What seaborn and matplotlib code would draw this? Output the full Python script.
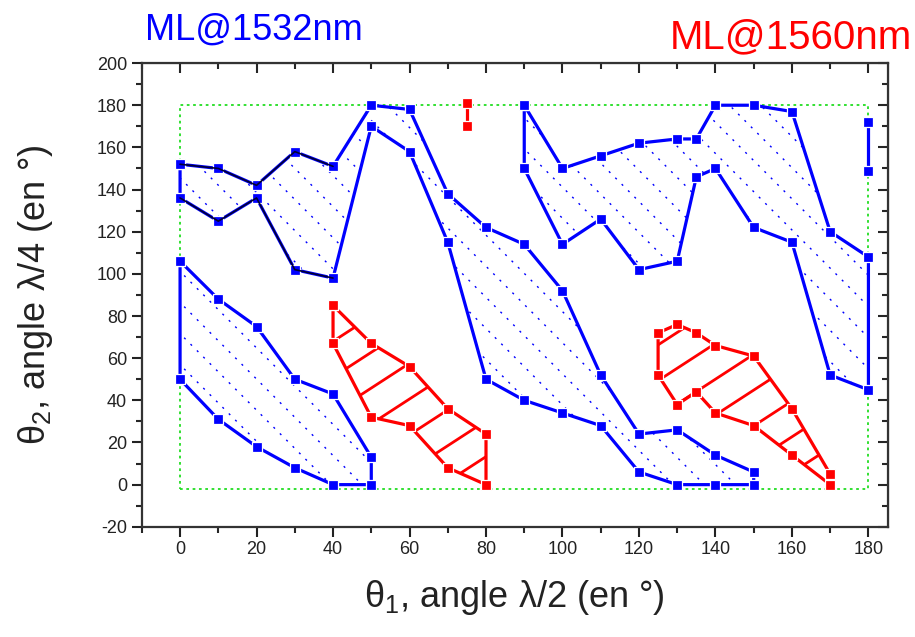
import numpy as np
import pandas as pd
import seaborn as sns
import matplotlib
matplotlib.use('Agg')
import matplotlib.pyplot as plt
from matplotlib.collections import LineCollection
from matplotlib.transforms import IdentityTransform

# ML@1532nm (blue) : allowed zones, upper / lower limits of theta2 for each theta1
blue_left_t1 = [0, 10, 20, 30, 40, 50]
blue_left_up = [106, 88, 75, 50, 43, 13]
blue_left_lo = [50, 31, 18, 8, 0, 0]

blue_mid_t1 = [0, 10, 20, 30, 40, 50, 60, 70, 80, 90, 100, 110, 120, 130, 140, 150]
blue_mid_up = [152, 150, 142, 158, 151, 180, 178, 138, 122, 114, 92, 52, 24, 26, 14, 6]
blue_mid_lo = [136, 125, 136, 102, 98, 170, 158, 115, 50, 40, 34, 28, 6, 0, 0, 0]

blue_right_t1 = [90, 100, 110, 120, 130, 135, 140, 150, 160, 170, 180]
blue_right_up = [180, 150, 156, 162, 164, 164, 180, 180, 177, 120, 108]
blue_right_lo = [150, 114, 126, 102, 106, 146, 150, 122, 115, 52, 45]

blue_edge_t1 = [180, 180]
blue_edge_t2 = [172, 149]

# ML@1560nm (red)
red_left_t1 = [40, 50, 60, 70, 80]
red_left_up = [85, 67, 56, 36, 24]
red_left_lo = [67, 32, 28, 8, 0]

red_right_t1 = [125, 130, 135, 140, 150, 160, 170]
red_right_up = [72, 76, 72, 66, 61, 36, 5]
red_right_lo = [52, 38, 44, 34, 28, 14, 0]

red_top_t1 = [75, 75]
red_top_t2 = [181, 170]

# explored domain
frame_x = [0, 180, 180, 0, 0]
frame_y = [-2, -2, 180, 180, -2]

BLUE = '#0000ff'
RED = '#ff0000'

sns.set_style('ticks')
plt.rcParams['font.family'] = ['Liberation Sans', 'DejaVu Sans']
plt.rcParams['mathtext.fontset'] = 'custom'
plt.rcParams['mathtext.rm'] = 'Liberation Sans'
plt.rcParams['mathtext.it'] = 'Liberation Sans'
plt.rcParams['axes.unicode_minus'] = False

fig = plt.figure(figsize=(9.15, 6.37), dpi=100)
ax = fig.add_axes([0.155, 0.173, 0.815, 0.728])
ax.set_xlim(-10, 185)
ax.set_ylim(-20, 200)


def outline(t1, up, lo):
    x = list(t1) + list(t1[::-1]) + [t1[0]]
    y = list(up) + list(lo[::-1]) + [up[0]]
    return x, y


def hatch(patch, angle, step, **kw):
    # parallel lines in pixel space, clipped to the zone
    x0, y0, x1, y1 = ax.bbox.extents
    a = np.radians(angle)
    d = np.array([np.cos(a), np.sin(a)])
    n = np.array([-d[1], d[0]])
    c = np.array([(x0 + x1) / 2, (y0 + y1) / 2])
    L = np.hypot(x1 - x0, y1 - y0)
    ks = np.arange(-int(L // step) - 1, int(L // step) + 2)
    segs = [[c + k * step * n - L * d, c + k * step * n + L * d] for k in ks]
    lc = LineCollection(segs, transform=IdentityTransform(), zorder=1.5, **kw)
    ax.add_collection(lc, autolim=False)
    lc.set_clip_path(patch)


def zone(t1, up, lo, color, hatch_kw):
    x, y = outline(t1, up, lo)
    patch = ax.fill(x, y, facecolor='none', edgecolor='none')[0]
    hatch(patch, **hatch_kw)
    sns.lineplot(x=x, y=y, sort=False, estimator=None, color=color, lw=2.3,
                 marker='s', markersize=7, markeredgecolor='white',
                 markeredgewidth=0.9, ax=ax, zorder=3)


ax.plot(frame_x, frame_y, color='#22dd22', lw=1.3, dashes=(1.5, 2.0), zorder=1)

blue_hatch = dict(angle=-45, step=22, colors=BLUE, linewidths=1.0,
                  linestyles=[(0, (1.5, 5))])
red_hatch = dict(angle=33, step=30, colors=RED, linewidths=2.0)

zone(blue_left_t1, blue_left_up, blue_left_lo, BLUE, blue_hatch)
zone(blue_mid_t1, blue_mid_up, blue_mid_lo, BLUE, blue_hatch)
zone(blue_right_t1, blue_right_up, blue_right_lo, BLUE, blue_hatch)
zone(red_left_t1, red_left_up, red_left_lo, RED, red_hatch)
zone(red_right_t1, red_right_up, red_right_lo, RED, red_hatch)

# dark overlay on the first segments of the middle zone
ax.plot(blue_mid_t1[:5], blue_mid_up[:5], color='#000033', lw=1.2, zorder=3.5)
ax.plot(blue_mid_t1[:5], blue_mid_lo[:5], color='#000033', lw=1.2, zorder=3.5)

sns.lineplot(x=blue_edge_t1, y=blue_edge_t2, sort=False, estimator=None, color=BLUE,
             lw=2.3, marker='s', markersize=6.5, markeredgecolor='white',
             markeredgewidth=0.9, ax=ax, zorder=3)
sns.lineplot(x=red_top_t1, y=red_top_t2, sort=False, estimator=None, color=RED,
             lw=2.3, marker='s', markersize=6.5, markeredgecolor='white',
             markeredgewidth=0.9, ax=ax, zorder=3)

# axes styling
ax.set_xticks(np.arange(0, 181, 20))
ax.set_xticks(np.arange(-10, 186, 10), minor=True)
ax.set_yticks(np.arange(-20, 201, 20))
ax.set_yticks(np.arange(-20, 201, 10), minor=True)
ax.tick_params(which='major', direction='out', length=7, width=1.5, labelsize=13,
               colors='#222222')
ax.tick_params(which='minor', direction='out', length=4, width=1.5)
for s in ax.spines.values():
    s.set_visible(True)
    s.set_linewidth(1.6)
    s.set_color('#333333')

top = ax.secondary_xaxis('top')
top.set_xticks(np.arange(0, 181, 20))
top.set_xticks(np.arange(-10, 186, 10), minor=True)
top.tick_params(which='major', direction='in', length=7, width=1.5, labeltop=False)
top.tick_params(which='minor', direction='in', length=4, width=1.5)
right = ax.secondary_yaxis('right')
right.set_yticks(np.arange(-20, 201, 20))
right.set_yticks(np.arange(-20, 201, 10), minor=True)
right.tick_params(which='major', direction='in', length=7, width=1.5, labelright=False)
right.tick_params(which='minor', direction='in', length=4, width=1.5)

ax.set_xlabel('θ$_1$, angle λ/2 (en °)', fontsize=26, color='#222222', labelpad=14)
ax.set_ylabel('θ$_2$, angle λ/4 (en °)', fontsize=26, color='#222222', labelpad=30)

fig.text(0.158, 0.925, 'ML@1532nm', color=BLUE, fontsize=26, ha='left', va='bottom')
fig.text(0.997, 0.912, 'ML@1560nm', color=RED, fontsize=29, ha='right', va='bottom')

fig.savefig('out.png', dpi=100)
